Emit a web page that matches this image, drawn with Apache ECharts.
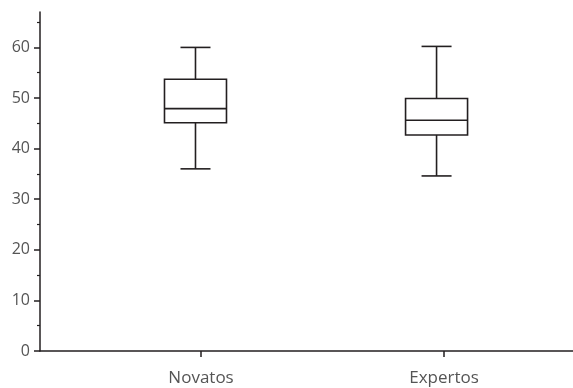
<!DOCTYPE html>
<html>
<head>
<meta charset="utf-8">
<script src="https://cdn.jsdelivr.net/npm/echarts@6/dist/echarts.min.js"></script>
<style>
  html, body { margin: 0; padding: 0; background: #ffffff; }
  #chart { width: 573px; height: 388px; }
</style>
</head>
<body>
<div id="chart"></div>
<script>
// Groups shown on the horizontal axis
const categories = ['Novatos', 'Expertos'];
// Five-number summaries: [min, Q1, median, Q3, max]
const novatos = [36.0, 45.1, 47.9, 53.7, 60.0];
const expertos = [34.6, 42.7, 45.6, 49.9, 60.2];
// Where each box sits and where its category tick/label sits on the x scale
const boxPositions = [0, 1];
const labelPositions = [0.023, 1.031];
// Y axis ticks
const yTicks = [0, 10, 20, 30, 40, 50, 60];
const yMinorTicks = [5, 15, 25, 35, 45, 55, 65];

const ink = '#231f20';
const labelColor = '#555555';

const boxData = [
  [boxPositions[0]].concat(novatos),
  [boxPositions[1]].concat(expertos)
];

function renderBox(params, api) {
  const x = api.value(0);
  const pts = [1, 2, 3, 4, 5].map(function (i) { return api.coord([x, api.value(i)]); });
  const cx = pts[0][0];
  const yMin = pts[0][1], yQ1 = pts[1][1], yMed = pts[2][1], yQ3 = pts[3][1], yMax = pts[4][1];
  const hb = 31;   // half box width (px)
  const hc = 15;   // half whisker cap width (px)
  const st = { stroke: ink, lineWidth: 1.6, fill: 'none' };
  return {
    type: 'group',
    children: [
      { type: 'line', shape: { x1: cx, y1: yMax, x2: cx, y2: yQ3 }, style: st },
      { type: 'line', shape: { x1: cx, y1: yQ1, x2: cx, y2: yMin }, style: st },
      { type: 'line', shape: { x1: cx - hc, y1: yMax, x2: cx + hc, y2: yMax }, style: st },
      { type: 'line', shape: { x1: cx - hc, y1: yMin, x2: cx + hc, y2: yMin }, style: st },
      { type: 'rect', shape: { x: cx - hb, y: yQ3, width: 2 * hb, height: yQ1 - yQ3 }, style: st },
      { type: 'line', shape: { x1: cx - hb, y1: yMed, x2: cx + hb, y2: yMed }, style: st }
    ]
  };
}

const chart = echarts.init(document.getElementById('chart'), null, { renderer: 'canvas' });
chart.setOption({
  animation: false,
  backgroundColor: '#ffffff',
  grid: { left: 40, right: 0, top: 12, bottom: 37 },
  xAxis: {
    type: 'value',
    min: -0.645,
    max: 1.566,
    splitLine: { show: false },
    axisLine: { show: true, onZero: false, lineStyle: { color: ink, width: 1.5 } },
    axisTick: { show: true, customValues: labelPositions, length: 6, lineStyle: { color: ink, width: 1.5 } },
    axisLabel: {
      show: true,
      customValues: labelPositions,
      margin: 19,
      color: labelColor,
      fontFamily: 'Open Sans',
      fontSize: 17,
      formatter: function (v) {
        const i = labelPositions.indexOf(v);
        return i >= 0 ? categories[i] : '';
      }
    }
  },
  yAxis: [
    {
      type: 'value',
      min: 0,
      max: 67,
      splitLine: { show: false },
      axisLine: { show: true, onZero: false, lineStyle: { color: ink, width: 1.5 } },
      axisTick: { show: true, customValues: yTicks, length: 6, lineStyle: { color: ink, width: 1.5 } },
      axisLabel: {
        show: true,
        customValues: yTicks,
        margin: 10,
        color: labelColor,
        fontFamily: 'Open Sans',
        fontSize: 16
      }
    },
    {
      type: 'value',
      min: 0,
      max: 67,
      position: 'left',
      splitLine: { show: false },
      axisLine: { show: false, onZero: false },
      axisTick: { show: true, customValues: yMinorTicks, length: 3, lineStyle: { color: ink, width: 1.2 } },
      axisLabel: { show: false }
    }
  ],
  series: [{
    type: 'custom',
    renderItem: renderBox,
    data: boxData,
    encode: { x: 0, y: [1, 2, 3, 4, 5] },
    clip: false
  }]
});
</script>
</body>
</html>
